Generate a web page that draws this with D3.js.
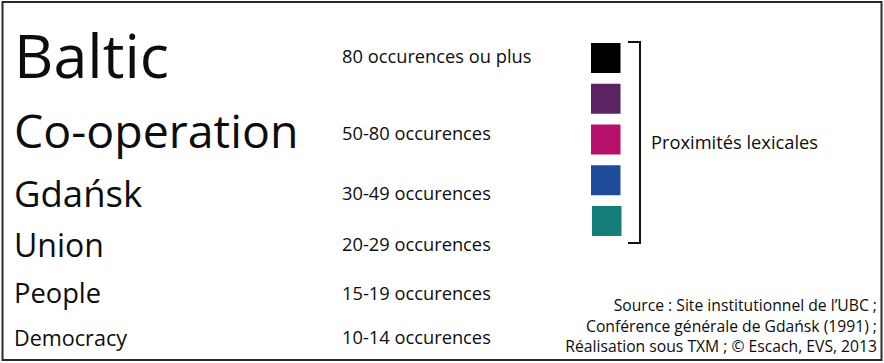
<!DOCTYPE html>
<html>
<head>
<meta charset="utf-8">
<script src="https://cdn.jsdelivr.net/npm/d3@7"></script>
<style>
  html, body { margin: 0; padding: 0; background: #fff; }
  svg { display: block; }
  text { font-family: "Open Sans", "DejaVu Sans", sans-serif; fill: #0d0d0d; }
</style>
</head>
<body>
<svg id="chart" width="884" height="363"></svg>
<script>
// ---- data ----
const words = ["Baltic", "Co-operation", "Gdańsk", "Union", "People", "Democracy"];
const occurrenceClasses = ["80 occurences ou plus", "50-80 occurences", "30-49 occurences",
                           "20-29 occurences", "15-19 occurences", "10-14 occurences"];
const proximityColors = ["#000000", "#5b2361", "#b5106a", "#1f4b9b", "#137f78"];
const proximityLabel = "Proximités lexicales";
const sourceLines = ["Source : Site institutionnel de l’UBC  ;",
                     "Conférence générale de Gdańsk (1991) ;",
                     "Réalisation sous TXM ; © Escach, EVS, 2013"];

// ---- layout ----
const W = 884, H = 363;
const svg = d3.select("#chart");

svg.append("rect")
  .attr("x", 2.5).attr("y", 2).attr("width", W - 5).attr("height", H - 5)
  .attr("fill", "#fff").attr("stroke", "#2a2a2a").attr("stroke-width", 2);

const fontSize = d3.scaleOrdinal().domain(words).range([61, 46.5, 36.5, 32, 27.3, 21.6]);
const wordBaseline = d3.scaleOrdinal().domain(words).range([78, 148, 207, 257, 303, 346]);
const labelBaseline = d3.scaleOrdinal().domain(occurrenceClasses).range([63, 140, 200, 251, 300, 344]);

svg.append("g").selectAll("text").data(words).join("text")
  .attr("x", 14)
  .attr("y", d => wordBaseline(d))
  .attr("font-size", d => fontSize(d))
  .text(d => d);

svg.append("g").selectAll("text").data(occurrenceClasses).join("text")
  .attr("x", 342)
  .attr("y", d => labelBaseline(d))
  .attr("font-size", 18.3)
  .text(d => d);

// swatches
const sy = d3.scalePoint().domain(d3.range(proximityColors.length)).range([43, 206]);
svg.append("g").selectAll("rect").data(proximityColors).join("rect")
  .attr("x", (d, i) => i === proximityColors.length - 1 ? 592 : 591)
  .attr("y", (d, i) => sy(i))
  .attr("width", 29.5).attr("height", 30)
  .attr("fill", d => d);

// bracket
const by0 = sy(0) - 1, by1 = sy(proximityColors.length - 1) + 37;
svg.append("path")
  .attr("d", `M628,${by0}H640V${by1}H628`)
  .attr("fill", "none").attr("stroke", "#111").attr("stroke-width", 2);

svg.append("text")
  .attr("x", 651).attr("y", 149)
  .attr("font-size", 18.3)
  .text(proximityLabel);

// source
const srcY = d3.scalePoint().domain(d3.range(sourceLines.length)).range([311, 352]);
svg.append("g").selectAll("text").data(sourceLines).join("text")
  .attr("x", 877)
  .attr("y", (d, i) => srcY(i))
  .attr("text-anchor", "end")
  .attr("font-size", 15.7)
  .text(d => d);
</script>
</body>
</html>
